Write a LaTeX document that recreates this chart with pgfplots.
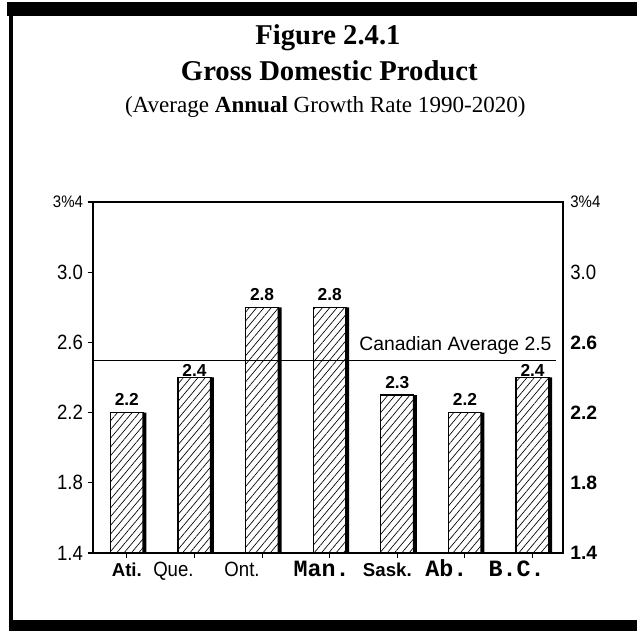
\documentclass[border=0pt]{standalone}
\usepackage{fontspec}
\setmainfont{Liberation Serif}
\newfontfamily\arial{Liberation Sans}
\newfontfamily\mono{Liberation Mono}
\usepackage{pgfplots}
\usepackage{pgfplotstable}
\pgfplotsset{compat=1.18}
\usetikzlibrary{patterns.meta}

\pgfplotstableread{
x val
0 2.2
1 2.4
2 2.8
3 2.8
4 2.3
5 2.2
6 2.4
}\gdp

\newcommand{\lab}[2]{\makebox[0pt]{\makebox[0pt]{#2}\kern#1}}
\newcommand{\cnd}[1]{\scalebox{0.9}[1]{#1}}

\begin{document}
\begin{tikzpicture}
\path (0,0) rectangle (477.75pt,473.25pt);
% frame
\fill (5pt,461pt) rectangle (477.75pt,471.75pt);
\fill (6.5pt,0pt) rectangle (477.75pt,8pt);
\fill (6.8pt,0pt) rectangle (9.6pt,471pt);
% titles
\node[anchor=base, font=\bfseries\fontsize{21.5}{24}\selectfont] at (246pt,439.9pt) {Figure 2.4.1};
\node[anchor=base, font=\bfseries\fontsize{21.5}{24}\selectfont] at (247pt,413pt) {Gross Domestic Product};
\node[anchor=base, font=\fontsize{17.3}{19}\selectfont] at (244pt,389pt) {(Average \textbf{Annual} Growth Rate 1990-2020)};

\begin{axis}[
  at={(69.75pt,58.5pt)}, anchor=south west, scale only axis,
  width=352.5pt, height=263.25pt,
  xmin=-0.5, xmax=6.45, ymin=1.4, ymax=3.4,
  axis line style={line width=0.8pt},
  ytick pos=left, xtick pos=bottom, tick align=outside,
  major tick length=4pt, tick style={line width=0.8pt, black},
  xtick={0,1,2,3,4,5,6},
  xticklabels={
    {\arial\bfseries\fontsize{14}{16}\selectfont Ati.},
    {\lab{31.5pt}{\arial\fontsize{15.5}{16}\selectfont\cnd{Que.}}},
    {\lab{30pt}{\arial\fontsize{15.5}{16}\selectfont\cnd{Ont.}}},
    {\lab{12pt}{\mono\bfseries\fontsize{17.5}{18}\selectfont Man.}},
    {\lab{15pt}{\arial\bfseries\fontsize{14}{16}\selectfont Sask.}},
    {\lab{28pt}{\mono\bfseries\fontsize{17.5}{18}\selectfont Ab.}},
    {\lab{24pt}{\mono\bfseries\fontsize{17.5}{18}\selectfont B.C.}}},
  xticklabel style={anchor=base, yshift=-14pt},
  ytick={1.4,1.8,2.2,2.6,3.0,3.4},
  yticklabels={\cnd{1.4},\cnd{1.8},\cnd{2.2},\cnd{2.6},\cnd{3.0},{\fontsize{12.5}{14}\selectfont\cnd{3\%4}}},
  yticklabel style={font=\arial\fontsize{15.5}{16}\selectfont},
  /pgf/number format/assume math mode=true,
  nodes near coords style={anchor=base, font=\arial\bfseries\fontsize{13}{14}\selectfont},
]
\addplot[ybar, bar width=0.488, bar shift=0, draw=black, line width=0.9pt,
  pattern={Lines[angle=50, distance=4.2pt, line width=0.5pt]}]
  table[x=x, y=val]{\gdp};
\addplot[ybar, bar width=0.06, bar shift=0.259, fill=black, draw=none]
  table[x=x, y=val]{\gdp};
% value labels
\addplot[draw=none, nodes near coords={\pgfmathprintnumber[fixed,precision=1,fixed zerofill]{\pgfplotspointmeta}},
  point meta=y, nodes near coords style={yshift=5pt}]
  coordinates {(0,2.2) (2,2.8) (3,2.8) (4,2.3) (5,2.2)};
\addplot[draw=none, nodes near coords={\pgfmathprintnumber[fixed,precision=1,fixed zerofill]{\pgfplotspointmeta}},
  point meta=y, nodes near coords style={yshift=0.8pt}]
  coordinates {(1,2.4) (6,2.4)};
\addplot[black, line width=0.6pt] coordinates {(-0.5,2.5) (6.35,2.5)};
\node[anchor=base east, font=\arial\fontsize{14.5}{16}\selectfont] at (axis cs:6.35,2.5) [yshift=6.75pt] {Canadian Average 2.5};
\end{axis}

\begin{axis}[
  at={(69.75pt,58.5pt)}, anchor=south west, scale only axis,
  width=352.5pt, height=263.25pt,
  xmin=-0.5, xmax=6.45, ymin=1.4, ymax=3.4,
  hide x axis, axis y line*=right,
  y axis line style={line width=0.8pt},
  ytick={1.4,1.8,2.2,2.6,3.0,3.4},
  ytick style={draw=none},
  yticklabels={{\bfseries 1.4},{\bfseries 1.8},{\bfseries 2.2},{\bfseries 2.6},\cnd{\fontsize{15.5}{16}\selectfont 3.0},{\fontsize{12.5}{14}\selectfont\cnd{3\%4}}},
  yticklabel style={anchor=west, xshift=2pt, font=\arial\fontsize{14.5}{16}\selectfont},
]
\addplot[draw=none] coordinates {(0,2)};
\end{axis}
\end{tikzpicture}
\end{document}
